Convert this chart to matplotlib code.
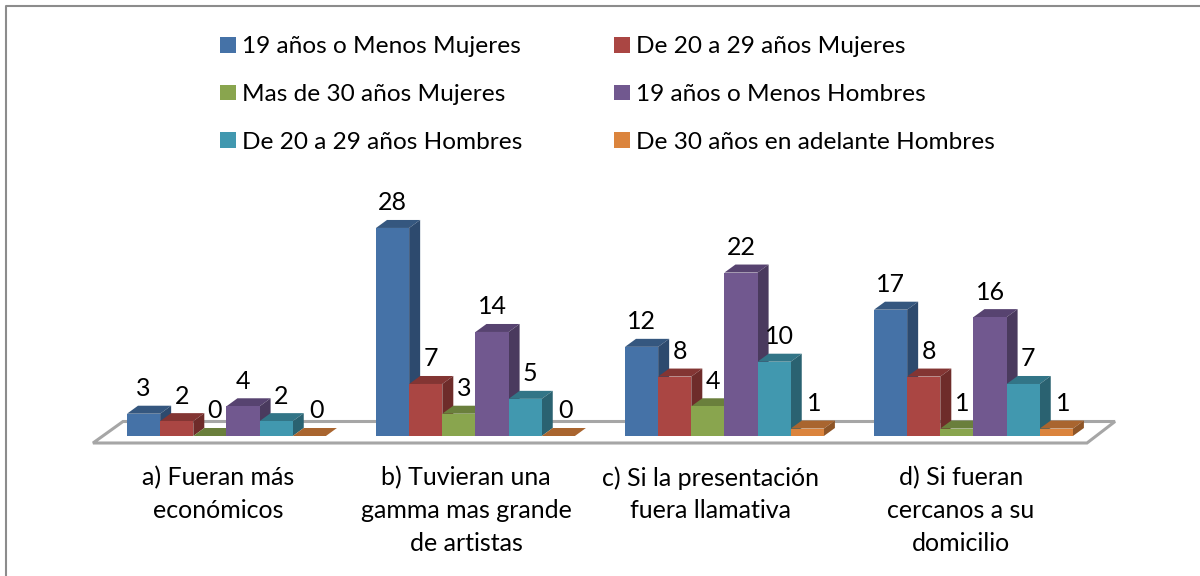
import matplotlib
matplotlib.use('Agg')
import matplotlib.pyplot as plt
from matplotlib.lines import Line2D
from matplotlib.patches import Polygon, Rectangle

# chart values
categories = ['a) Fueran más\neconómicos',
              'b) Tuvieran una\ngamma mas grande\nde artistas',
              'c) Si la presentación\nfuera llamativa',
              'd) Si fueran\ncercanos a su\ndomicilio']
series_names = ['19 años o Menos Mujeres', 'De 20 a 29 años Mujeres',
                'Mas de 30 años Mujeres', '19 años o Menos Hombres',
                'De 20 a 29 años Hombres', 'De 30 años en adelante Hombres']
menos19_mujeres = [3, 28, 12, 17]
de20a29_mujeres = [2, 7, 8, 8]
mas30_mujeres = [0, 3, 4, 1]
menos19_hombres = [4, 14, 22, 16]
de20a29_hombres = [2, 5, 10, 7]
mas30_hombres = [0, 0, 1, 1]
all_series = [menos19_mujeres, de20a29_mujeres, mas30_mujeres,
              menos19_hombres, de20a29_hombres, mas30_hombres]

# front, top, side
front_colors = ['#4572A7', '#AA4643', '#89A54E', '#71588F', '#4198AF', '#DB843D']
top_colors = ['#35577F', '#833533', '#6A7F3C', '#574370', '#327587', '#A9652F']
side_colors = ['#2D4A6E', '#6E2C2A', '#596A32', '#4A3A5E', '#2A6271', '#8E5527']

plt.rcParams['font.family'] = ['Lato', 'DejaVu Sans']

W, H = 1200, 576
PX_X = 33.15   # px per bar width
PX_Y = 7.43    # px per value
X0 = 127       # left edge of first bar
Y0 = 436       # baseline
GROUP_STEP = 249 / PX_X
DX = 11 / PX_X
DY = 8 / PX_Y
FS = 18

fig = plt.figure(figsize=(W / 100, H / 100), dpi=100, facecolor='white')
ax = fig.add_axes([0, 0, 1, 1])
ax.set_xlim(-X0 / PX_X, (W - X0) / PX_X)
ax.set_ylim(-(H - Y0) / PX_Y, Y0 / PX_Y)
ax.axis('off')


def px(x, y):
    return (x - X0) / PX_X, (Y0 - y) / PX_Y


# outer frame, only left and top are inside the picture
fig.add_artist(Line2D([6 / W, 6 / W, 1], [0, 1 - 6 / H, 1 - 6 / H], transform=fig.transFigure,
                      color='#8C8C8C', linewidth=1.5))

# floor
ax.add_patch(Polygon([px(93, 443), px(123, 421.5), px(1115, 421.5), px(1087, 443)],
                     closed=True, facecolor='white', edgecolor='#A6A6A6', linewidth=2.2, zorder=1))

# data labels sit a bit right of their bars for some series
label_shift = [0, 5, 5, 0, 5, 7]

for g in range(len(categories)):
    for s, values in enumerate(all_series):
        v = values[g]
        left = g * GROUP_STEP + s
        right = left + 1
        z = 2 + g * 10 + s
        ax.bar(left, v, width=1, align='edge', color=front_colors[s], linewidth=0, zorder=z + 0.2)
        ax.add_patch(Polygon([(left, v), (left + DX, v + DY), (right + DX, v + DY), (right, v)],
                             closed=True, facecolor=top_colors[s], edgecolor='none', zorder=z))
        ax.add_patch(Polygon([(right, 0), (right + DX, DY), (right + DX, v + DY), (right, v)],
                             closed=True, facecolor=side_colors[s], edgecolor='none', zorder=z))
        ax.annotate(str(v), (left + 0.5, v), xytext=(label_shift[s] * 0.72, 25 * 0.72),
                    textcoords='offset points', ha='center', va='center', fontsize=FS,
                    color='black', zorder=100)

label_centers = [218, 466, 711, 961]
for cat, cx in zip(categories, label_centers):
    ax.text(px(cx, 0)[0], px(0, 466)[1], cat, ha='center', va='top', fontsize=FS,
            linespacing=1.51, color='black')

# legend fills column by column, reference reads row by row
order = [0, 2, 4, 1, 3, 5]
handles = [Rectangle((0, 0), 1, 1, facecolor=front_colors[i], edgecolor='none') for i in order]
ax.legend(handles, [series_names[i] for i in order], ncol=2, frameon=False, fontsize=17.6,
          loc='upper left', bbox_to_anchor=(218 / W, 1 - 34 / H), bbox_transform=fig.transFigure,
          handlelength=0.62, handleheight=0.62, handletextpad=0.28,
          columnspacing=3.75, labelspacing=1.09, borderpad=0.1, borderaxespad=0)

fig.savefig('out.png', dpi=100, facecolor='white')
